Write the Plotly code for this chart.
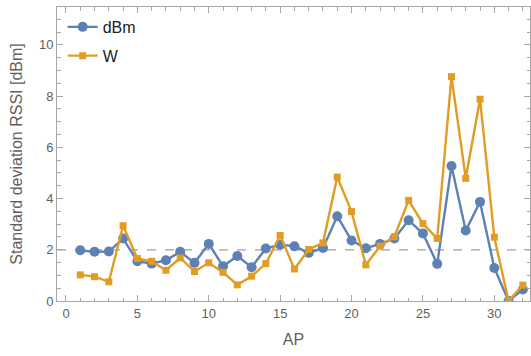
import plotly.graph_objects as go

ap = list(range(1, 33))
dbm = [1.98, 1.92, 1.93, 2.44, 1.55, 1.46, 1.59, 1.92, 1.49, 2.23, 1.36, 1.76, 1.32, 2.05, 2.2, 2.14,
       1.88, 2.07, 3.31, 2.36, 2.06, 2.23, 2.44, 3.15, 2.64, 1.45, 5.27, 2.75, 3.87, 1.29, 0.0, 0.45]
watt = [1.02, 0.95, 0.75, 2.94, 1.66, 1.55, 1.2, 1.68, 1.15, 1.49, 1.12, 0.63, 0.97, 1.46, 2.56, 1.25,
        2.01, 2.27, 4.84, 3.49, 1.41, 2.14, 2.51, 3.93, 3.02, 2.44, 8.76, 4.79, 7.88, 2.49, 0.0, 0.62]
ref_level = 2

blue = "#5E81B5"
orange = "#E19C24"
axis_col = "#a6a6a6"
text_col = "#5f5f5f"
font = "Liberation Sans, Arial, sans-serif"

fig = go.Figure()
fig.add_trace(go.Scatter(x=ap, y=dbm, mode="lines+markers", name="dBm", legendgroup="a",
                         line=dict(color=blue, width=2.4),
                         marker=dict(symbol="circle", size=10, color=blue)))
fig.add_trace(go.Scatter(x=ap, y=watt, mode="lines+markers", name="W", legendgroup="b",
                         line=dict(color=orange, width=2.4),
                         marker=dict(symbol="square", size=7, color=orange)))
fig.add_hline(y=ref_level, line=dict(color="#a0a0a0", width=1.3, dash="dash"), layer="below")

axis_common = dict(showline=True, linecolor=axis_col, linewidth=1, mirror="ticks",
                   ticks="inside", ticklen=6, tickcolor=axis_col, showgrid=False, zeroline=False,
                   automargin=False,
                   tickfont=dict(family=font, size=13, color=text_col))

fig.update_xaxes(range=[-0.63, 32.5], tick0=0, dtick=5,
                 minor=dict(dtick=1, ticks="inside", ticklen=3.5, tickcolor=axis_col, showgrid=False),
                 title=dict(text="AP", font=dict(family=font, size=16, color=text_col), standoff=14),
                 **axis_common)
fig.update_yaxes(range=[0, 11.48], tick0=0, dtick=2,
                 minor=dict(dtick=0.5, ticks="inside", ticklen=3.5, tickcolor=axis_col, showgrid=False),
                 title=dict(text="Standard deviation RSSI [dBm]", font=dict(family=font, size=16, color=text_col), standoff=12),
                 **axis_common)

fig.update_layout(
    width=531, height=356,
    margin=dict(l=57, r=1, t=7, b=55),
    paper_bgcolor="white", plot_bgcolor="white",
    showlegend=True,
    legend=dict(x=0.012, y=0.99, xanchor="left", yanchor="top",
                font=dict(family=font, size=16, color="#222222"),
                bgcolor="rgba(0,0,0,0)", tracegroupgap=5, itemwidth=30),
)

fig.write_html("out.html", config={"displayModeBar": False},
               post_script="document.body.style.margin='0';")
